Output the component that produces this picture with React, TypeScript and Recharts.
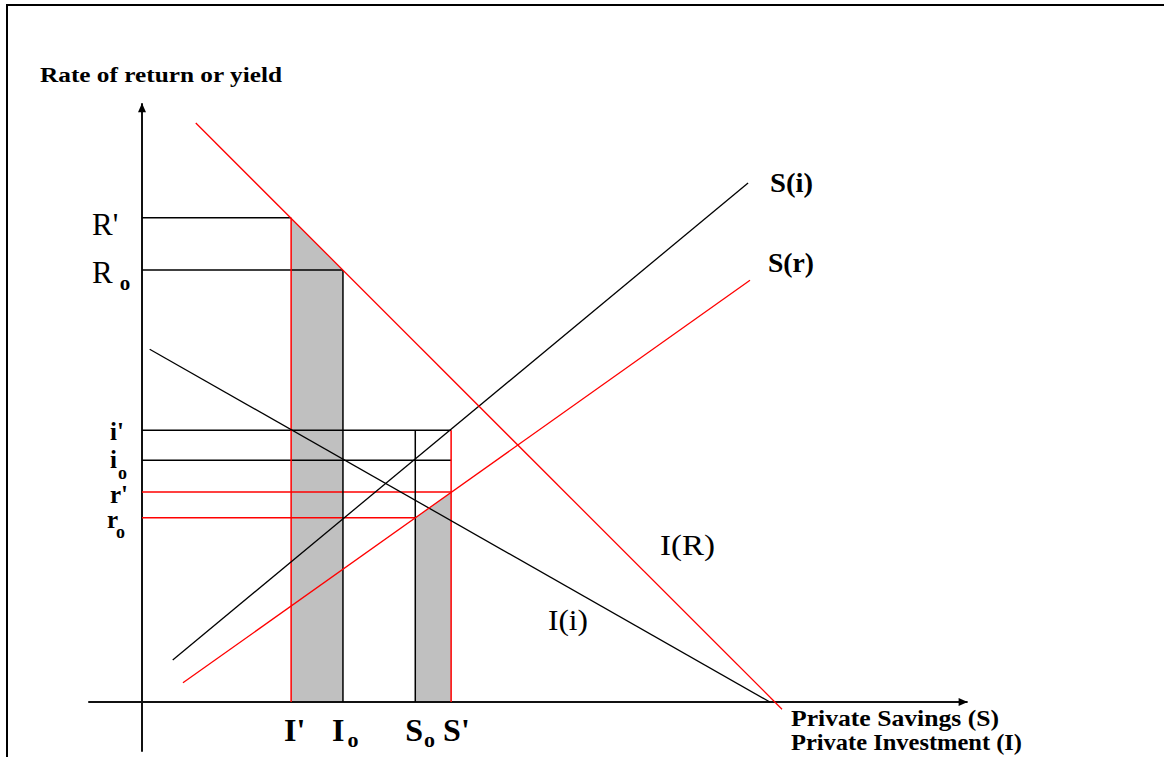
import { ComposedChart, Line, Area, XAxis, YAxis, ReferenceLine, ReferenceDot } from "recharts";

// levels on the vertical axis (rate of return / yield)
const LEVEL_KEYS = ["R'", "R0", "i'", "i0", "r'", "r0"];
const LEVEL_VALUES = [80.7, 72.0, 45.3, 40.3, 35.0, 30.7];

// quantities on the horizontal axis
const QTY_KEYS = ["I'", "I0", "S0", "S'"];
const QTY_VALUES = [23.3, 31.4, 42.7, 48.3];

// schedules (end points of straight lines)
const IR_LINE = [{ x: 8.4, y: 96.5 }, { x: 100.0, y: -1.2 }];
const II_LINE = [{ x: 1.2, y: 58.8 }, { x: 98.1, y: 0 }];
const SI_LINE = [{ x: 4.8, y: 7.0 }, { x: 94.7, y: 86.5 }];
const SR_LINE = [{ x: 6.4, y: 3.2 }, { x: 95.0, y: 70.3 }];

// shaded wedges under the curves
const SHADE_I = [{ x: 23.3, y: 80.7 }, { x: 31.4, y: 72.0 }];
const SHADE_S = [{ x: 42.7, y: 30.7 }, { x: 48.3, y: 35.0 }];

// drop lines: level -> quantity it runs to, quantity -> level it rises to
const H_GUIDES = [["R'", "I'"], ["R0", "I0"], ["i'", "S'"], ["i0", "S'"], ["r'", "S'"], ["r0", "S0"]];
const V_GUIDES = [["I'", "R'"], ["I0", "R0"], ["S0", "i'"], ["S'", "i'"]];

const X_AXIS = [-8.4, 129];
const Y_AXIS = [-8.3, 99.8];

const RED = "#ff0000";
const INK = "#000000";
const SERIF = "'Liberation Serif', 'DejaVu Serif', serif";

const lv = (k: string) => LEVEL_VALUES[LEVEL_KEYS.indexOf(k)];
const qv = (k: string) => QTY_VALUES[QTY_KEYS.indexOf(k)];
const guideColor = (k: string) => (k.startsWith("r") || k === "I'" || k === "S'" ? RED : INK);

// label placement relative to the axis point
const LEVEL_TAG: Record<string, any> = {
  "R'": { dx: -50, dy: 17, size: 31, weight: 400 },
  R0: { dx: -50, dy: 13, size: 31, weight: 400, sdx: 7, sdy: 7, ssize: 21 },
  "i'": { dx: -32, dy: 10, size: 25, weight: 700 },
  i0: { dx: -32, dy: 8, size: 25, weight: 700, sdx: 1, sdy: 11, ssize: 18 },
  "r'": { dx: -32, dy: 11, size: 25, weight: 700 },
  r0: { dx: -35, dy: 10, size: 25, weight: 700, sdx: -2, sdy: 10, ssize: 18 },
};
const QTY_TAG: Record<string, any> = {
  "I'": { dx: -7 },
  I0: { dx: -11, sdx: 3, sdy: 6 },
  S0: { dx: -10, sdx: 1, sdy: 6 },
  "S'": { dx: -8 },
};

function Tag({ x, y, name, size, weight, sdx = 0, sdy = 0, ssize = 22 }: any) {
  const sub = name.endsWith("0");
  const base = sub ? name.slice(0, -1) : name;
  return (
    <text x={x} y={y} fontFamily={SERIF} fontSize={size} fontWeight={weight} fill={INK}>
      {base}
      {sub && (
        <tspan dx={sdx} dy={sdy} fontSize={ssize} fontWeight={700}>o</tspan>
      )}
    </text>
  );
}

function Arrow({ cx, cy, dir }: any) {
  if (cx == null) return null;
  const pts = dir === "up"
    ? `${cx},${cy} ${cx - 4},${cy + 9} ${cx + 4},${cy + 9}`
    : `${cx},${cy} ${cx - 9},${cy - 4} ${cx - 9},${cy + 4}`;
  return <polygon points={pts} fill={INK} />;
}

export default function App() {
  return (
    <div style={{ position: "absolute", left: 0, top: 0, width: 1164, height: 757, background: "#fff", overflow: "hidden" }}>
      <div style={{ position: "absolute", left: 6, top: 4, width: 1170, height: 770, borderTop: "2px solid #000", borderLeft: "2px solid #000" }} />

      <div style={{ position: "absolute", left: 0, top: 0 }}>
        <ComposedChart width={1164} height={757} margin={{ top: 102, right: 126, bottom: 1, left: 78 }}>
          <XAxis type="number" dataKey="x" domain={[-10, 140]} allowDataOverflow hide />
          <YAxis type="number" domain={[-9, 100]} allowDataOverflow hide />

          <Area data={SHADE_I} dataKey="y" type="linear" baseValue={0} fill="#c0c0c0" fillOpacity={1} stroke="none" isAnimationActive={false} />
          <Area data={SHADE_S} dataKey="y" type="linear" baseValue={0} fill="#c0c0c0" fillOpacity={1} stroke="none" isAnimationActive={false} />

          {/* axes */}
          <ReferenceLine segment={[{ x: X_AXIS[0], y: 0 }, { x: X_AXIS[1], y: 0 }]} stroke="#111" strokeWidth={2} />
          <ReferenceLine segment={[{ x: 0, y: Y_AXIS[0] }, { x: 0, y: Y_AXIS[1] }]} stroke="#111" strokeWidth={2} />
          <ReferenceDot x={X_AXIS[1]} y={0} r={0} shape={(p: any) => <Arrow {...p} dir="right" />} />
          <ReferenceDot x={0} y={Y_AXIS[1]} r={0} shape={(p: any) => <Arrow {...p} dir="up" />} />

          {H_GUIDES.map(([l, q]) => (
            <ReferenceLine key={"h" + l} segment={[{ x: 0, y: lv(l) }, { x: qv(q), y: lv(l) }]} stroke={guideColor(l)} strokeWidth={1.5} />
          ))}
          {V_GUIDES.map(([q, l]) => (
            <ReferenceLine key={"v" + q} segment={[{ x: qv(q), y: 0 }, { x: qv(q), y: lv(l) }]} stroke={guideColor(q)} strokeWidth={1.5} />
          ))}

          <Line data={II_LINE} dataKey="y" type="linear" stroke={INK} strokeWidth={1.3} dot={false} isAnimationActive={false} />
          <Line data={SI_LINE} dataKey="y" type="linear" stroke={INK} strokeWidth={1.3} dot={false} isAnimationActive={false} />
          <Line data={SR_LINE} dataKey="y" type="linear" stroke={RED} strokeWidth={1.3} dot={false} isAnimationActive={false} />
          <Line data={IR_LINE} dataKey="y" type="linear" stroke={RED} strokeWidth={1.3} dot={false} isAnimationActive={false} />

          {LEVEL_KEYS.map((k, i) => {
            const t = LEVEL_TAG[k];
            return (
              <ReferenceDot key={"lt" + k} x={0} y={LEVEL_VALUES[i]} r={0}
                shape={(p: any) => <Tag x={p.cx + t.dx} y={p.cy + t.dy} name={k} size={t.size} weight={t.weight} sdx={t.sdx} sdy={t.sdy} ssize={t.ssize} />} />
            );
          })}
          {QTY_KEYS.map((k, i) => {
            const t = QTY_TAG[k];
            return (
              <ReferenceDot key={"qt" + k} x={QTY_VALUES[i]} y={0} r={0}
                shape={(p: any) => <Tag x={p.cx + t.dx} y={p.cy + 39} name={k} size={32} weight={700} sdx={t.sdx} sdy={t.sdy} />} />
            );
          })}
        </ComposedChart>
      </div>

      <svg width={1164} height={757} style={{ position: "absolute", left: 0, top: 0, pointerEvents: "none" }}>
        <g fontFamily={SERIF} fill={INK}>
          <text x={40} y={82} fontSize={20} fontWeight={700} textLength={242} lengthAdjust="spacingAndGlyphs">Rate of return or yield</text>
          <text x={770} y={192} fontSize={28} fontWeight={700} textLength={43} lengthAdjust="spacingAndGlyphs">S(i)</text>
          <text x={768} y={272} fontSize={28} fontWeight={700} textLength={46} lengthAdjust="spacingAndGlyphs">S(r)</text>
          <text x={660} y={555} fontSize={29} textLength={55} lengthAdjust="spacingAndGlyphs">I(R)</text>
          <text x={548} y={630} fontSize={29} textLength={40} lengthAdjust="spacingAndGlyphs">I(i)</text>
          <text x={791} y={726} fontSize={24} fontWeight={700} textLength={208} lengthAdjust="spacingAndGlyphs">Private Savings (S)</text>
          <text x={791} y={750} fontSize={24} fontWeight={700} textLength={231} lengthAdjust="spacingAndGlyphs">Private Investment (I)</text>
        </g>
      </svg>
    </div>
  );
}
